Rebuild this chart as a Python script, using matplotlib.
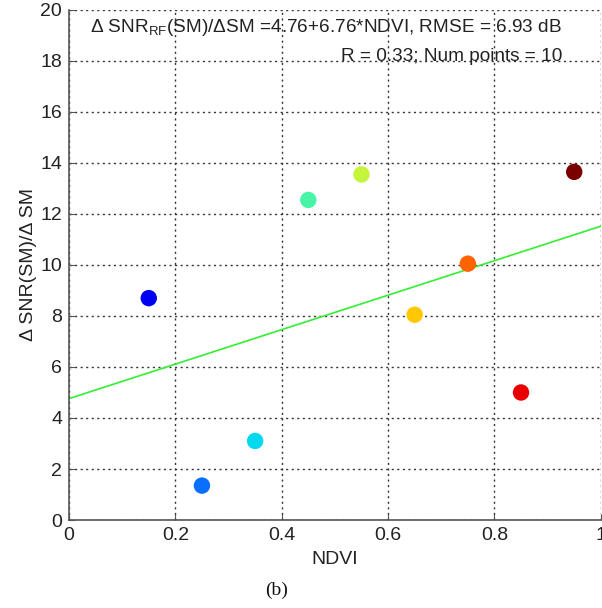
import numpy as np
import matplotlib.pyplot as plt

plt.rcParams['font.family'] = ['Liberation Sans', 'DejaVu Sans']

# data
ndvi = [0.15, 0.25, 0.35, 0.45, 0.55, 0.65, 0.75, 0.85, 0.95]
dsnr_dsm = [8.7, 1.35, 3.1, 12.55, 13.55, 8.05, 10.05, 5.0, 13.65]
point_colors = ['#0000f5', '#0a6fff', '#00d8f0', '#48f5a8', '#c4f43c',
                '#ffc800', '#ff6400', '#e80000', '#7a0000']

intercept = 4.76
slope = 6.76
rmse = 6.93
r_value = 0.33
num_points = 10

fig = plt.figure(figsize=(6.02, 6.08), dpi=100)
ax = fig.add_axes([0.1146, 0.1447, 0.8834, 0.839])

ax.scatter(ndvi, dsnr_dsm, s=140, c=point_colors, edgecolors='none', zorder=3)

x_fit = np.array([0.0, 1.0])
ax.plot(x_fit, intercept + slope * x_fit, color='#33ee33', linewidth=1.2, zorder=2)

ax.set_xlim(0, 1)
ax.set_ylim(0, 20)
ax.set_xticks(np.arange(0, 1.01, 0.2))
ax.set_xticklabels(['0', '0.2', '0.4', '0.6', '0.8', '1'])
ax.set_yticks(np.arange(0, 21, 2))
ax.grid(True, color='#333333', linestyle=(0, (1.5, 2.5)), linewidth=1)
ax.set_axisbelow(True)
for side in ['top', 'right']:
    ax.spines[side].set_visible(False)
for side in ['left', 'bottom']:
    ax.spines[side].set_color('#555555')
    ax.spines[side].set_linewidth(1.2)
ax.tick_params(direction='in', length=4, labelsize=14, colors='#555555',
               labelcolor='#222222')
ax.tick_params(axis='x', pad=5)
ax.tick_params(axis='y', pad=5)

ax.text(0.927, 19.14,
        f'\u0394 SNR$_\\mathregular{{RF}}$(SM)/\u0394SM ={intercept:.2f}+{slope:.2f}*NDVI, RMSE = {rmse:.2f} dB',
        ha='right', va='baseline', fontsize=13.7, color='#222222')
ax.text(0.927, 18.0, f'R = {r_value:.2f}; Num points = {num_points}',
        ha='right', va='baseline', fontsize=13.7, color='#222222')

ax.set_xlabel('NDVI', fontsize=14, color='#222222', labelpad=5)
ax.set_ylabel('\u0394 SNR(SM)/\u0394 SM', fontsize=14, color='#222222', labelpad=2)

fig.text(0.459, 0.029, '(b)', family='Liberation Serif', fontsize=14,
         ha='center', va='center', color='#111111')

fig.savefig('out.png', dpi=100)
